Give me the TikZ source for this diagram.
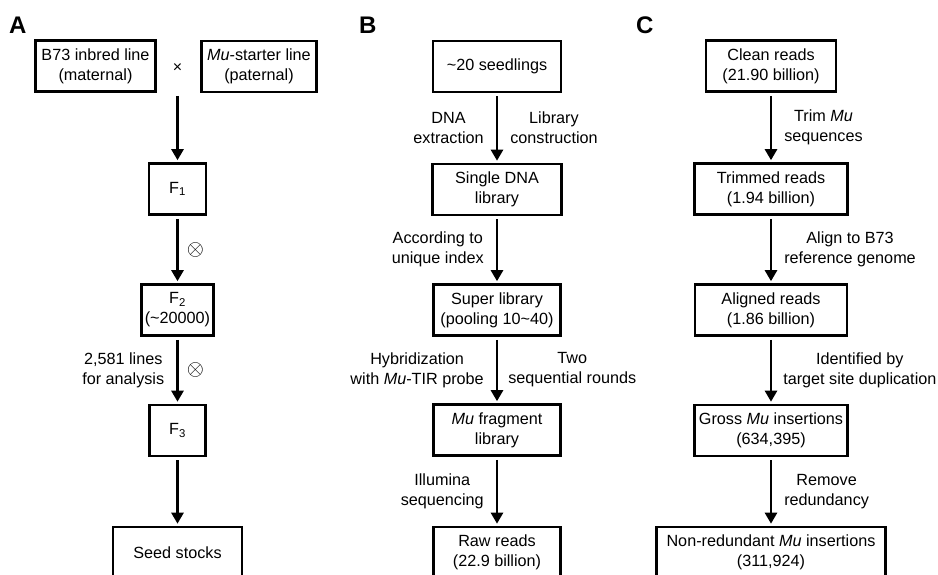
\documentclass[tikz,border=0pt]{standalone}
\usepackage{fontspec}
\setmainfont{Liberation Sans}
\usetikzlibrary{arrows.meta,positioning}

\begin{document}
\begin{tikzpicture}[
  x=1pt,y=-1pt,
  box/.style={draw,line width=2.6pt,minimum height=51pt,align=center,
              font=\fontsize{16.2}{20}\selectfont,inner sep=2pt},
  lbl/.style={align=center,font=\fontsize{16.2}{20}\selectfont,
              inner xsep=12pt,inner ysep=0pt},
  flow/.style={line width=2.6pt,-{Triangle[length=11pt,width=12pt]},
               shorten <=3pt,shorten >=2pt},
  panel/.style={font=\fontsize{24}{24}\selectfont\bfseries,anchor=base west,inner sep=0pt},
  selfx/.style={inner sep=0pt,right=8pt},
]
\useasboundingbox (0,0) rectangle (938,575);
\clip (0,0) rectangle (938,575);

% A --- crossing scheme
\node[panel] (pa) at (9,34) {A};
\node[box,minimum width=120pt] (b73) at (95.5,66) {B73 inbred line\\(maternal)};
\node[box,minimum width=115pt] (mus) at (259,66.5) {\textit{Mu}-starter line\\(paternal)};
\node[font=\fontsize{16}{16}\selectfont,inner sep=0pt] (cross) at (177.5,68) {×};
\coordinate (xtop) at (cross |- b73.south);
\node[box,minimum width=57pt] (f1) at (177.5,189) {F\textsubscript{1}};
\node[box,minimum width=72pt] (f2) at (177.5,310) {F\textsubscript{2}\\(\textasciitilde20000)};
\node[box,minimum width=56pt] (f3) at (177.5,430.5) {F\textsubscript{3}};
\node[box,minimum width=129pt] (seed) at (177.5,552.5) {Seed stocks};
\draw[flow] (xtop) -- (f1);
\draw[flow] (f1) -- node[selfx] {\scalebox{2.2}{$\otimes$}} (f2);
\draw[flow] (f2) -- node[lbl,left] {2,581 lines\\for analysis}
                    node[selfx] {\scalebox{2.2}{$\otimes$}} (f3);
\draw[flow] (f3) -- (seed);

% B --- library construction
\node[panel] (pb) at (359,34) {B};
\node[box,minimum width=128pt] (seedl) at (497,66.5) {\textasciitilde20 seedlings};
\node[box,minimum width=129pt] (single) at (497,189.5) {Single DNA\\library};
\node[box,minimum width=127pt] (super) at (497,310) {Super library\\(pooling 10\textasciitilde40)};
\node[box,minimum width=127pt] (mufrag) at (497,430) {\textit{Mu} fragment\\library};
\node[box,minimum width=127pt] (raw) at (497,552.5) {Raw reads\\(22.9 billion)};
\draw[flow] (seedl) -- node[lbl,left] {DNA\\extraction}
                       node[lbl,right] {Library\\construction} (single);
\draw[flow] (single) -- node[lbl,left] {According to\\unique index} (super);
\draw[flow] (super) -- node[lbl,left] {Hybridization\\with \textit{Mu}-TIR probe}
                       node[lbl,right,inner xsep=10pt] {Two\\sequential rounds} (mufrag);
\draw[flow] (mufrag) -- node[lbl,left] {Illumina\\sequencing} (raw);

% C --- read processing
\node[panel] (pc) at (636,34) {C};
\node[box,minimum width=130pt] (clean) at (771,66) {Clean reads\\(21.90 billion)};
\node[box,minimum width=153pt] (trim) at (771,189) {Trimmed reads\\(1.94 billion)};
\node[box,minimum width=152pt] (aligned) at (771,310) {Aligned reads\\(1.86 billion)};
\node[box,minimum width=153pt] (gross) at (771,430.5) {Gross \textit{Mu} insertions\\(634,395)};
\node[box,minimum width=229pt] (nonred) at (771,552.5) {Non-redundant \textit{Mu} insertions\\(311,924)};
\draw[flow] (clean) -- node[lbl,right] {Trim \textit{Mu}\\sequences} (trim);
\draw[flow] (trim) -- node[lbl,right] {Align to B73\\reference genome} (aligned);
\draw[flow] (aligned) -- node[lbl,right,inner xsep=11pt] {Identified by\\target site duplication} (gross);
\draw[flow] (gross) -- node[lbl,right] {Remove\\redundancy} (nonred);
\end{tikzpicture}
\end{document}
